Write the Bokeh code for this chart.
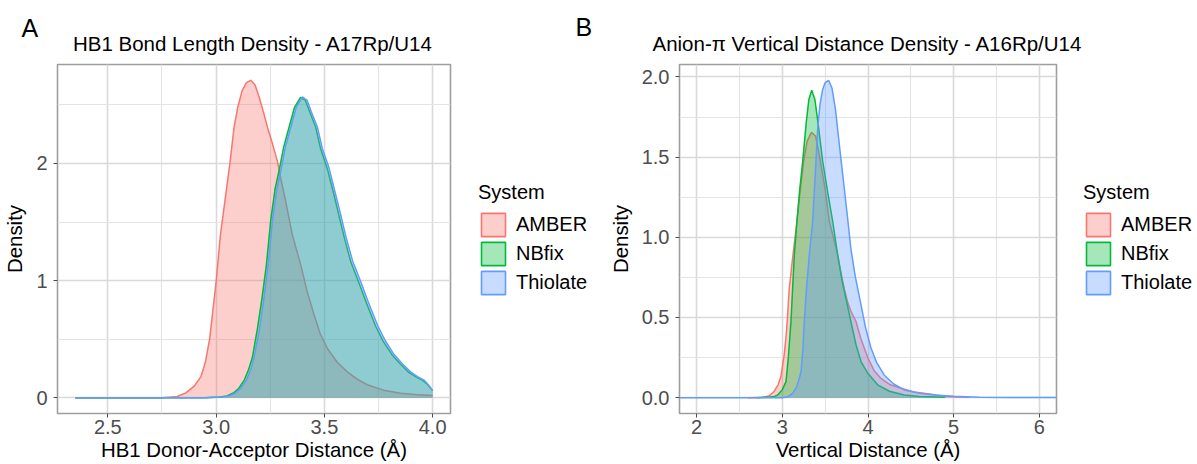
from bokeh.plotting import figure
from bokeh.layouts import row, column
from bokeh.models import Range1d, FixedTicker, Legend, LegendItem, Label
from bokeh.embed import file_html
from bokeh.resources import INLINE

FONT = "Liberation Sans"
NAN = float("nan")

systems = ["AMBER", "NBfix", "Thiolate"]
system_colors = ["#F8766D", "#00BA38", "#619CFF"]
legend_title = "System"
y_label = "Density"

# ---------------- Panel A ----------------
a_letter = "A"
a_title = "HB1 Bond Length Density - A17Rp/U14"
a_xlabel = "HB1 Donor-Acceptor Distance (Å)"
a_x_ticks = [2.5, 3.0, 3.5, 4.0]
a_x_tick_labels = ["2.5", "3.0", "3.5", "4.0"]
a_x_minor = [2.25, 2.75, 3.25, 3.75]
a_y_ticks = [0, 1, 2]
a_y_tick_labels = ["0", "1", "2"]
a_y_minor = [0.5, 1.5, 2.5]

a_amber_x = [2.35, 2.75, 2.82, 2.86, 2.90, 2.93, 2.95, 2.97, 2.99, 3.00, 3.02, 3.045, 3.065,
             3.083, 3.10, 3.12, 3.14, 3.16, 3.18, 3.20, 3.22, 3.237, 3.26, 3.283, 3.30, 3.321,
             3.352, 3.39, 3.42, 3.452, 3.48, 3.514, 3.56, 3.606, 3.65, 3.698, 3.78, 3.852,
             3.92, 4.00]
a_amber_y = [0.0, 0.0, 0.01, 0.04, 0.10, 0.18, 0.30, 0.50, 0.82, 0.99, 1.39, 1.74, 2.02,
             2.31, 2.48, 2.62, 2.69, 2.71, 2.67, 2.56, 2.43, 2.31, 2.17, 2.02, 1.86, 1.68,
             1.39, 1.14, 0.91, 0.71, 0.55, 0.42, 0.30, 0.22, 0.16, 0.11, 0.06, 0.037,
             0.026, 0.018]

a_nbfix_x = [2.35, 2.95, 3.02, 3.05, 3.08, 3.105, 3.13, 3.15, 3.167, 3.19, 3.212, 3.232,
             3.252, 3.272, 3.291, 3.312, 3.337, 3.362, 3.39, 3.412, 3.433, 3.46, 3.482, 3.513,
             3.542, 3.567, 3.593, 3.622, 3.66, 3.692, 3.737, 3.772, 3.813, 3.852, 3.89,
             3.925, 3.955, 3.978, 4.00]
a_nbfix_y = [0.0, 0.0, 0.005, 0.015, 0.04, 0.08, 0.15, 0.24, 0.34, 0.58, 0.85, 1.13,
             1.51, 1.78, 1.94, 2.14, 2.31, 2.48, 2.565, 2.54, 2.44, 2.31, 2.13, 1.96,
             1.75, 1.56, 1.36, 1.16, 0.98, 0.82, 0.61, 0.48, 0.365, 0.285, 0.215,
             0.175, 0.145, 0.11, 0.06]

a_thiolate_x = [2.35, 2.95, 3.03, 3.06, 3.09, 3.114, 3.14, 3.16, 3.175, 3.20, 3.221, 3.24,
                3.26, 3.28, 3.299, 3.32, 3.345, 3.37, 3.398, 3.42, 3.44, 3.468, 3.49, 3.521,
                3.55, 3.575, 3.601, 3.63, 3.668, 3.70, 3.745, 3.78, 3.821, 3.86, 3.898,
                3.93, 3.96, 3.98, 4.00]
a_thiolate_y = [0.0, 0.0, 0.005, 0.015, 0.04, 0.08, 0.15, 0.24, 0.34, 0.58, 0.85, 1.13,
                1.51, 1.78, 1.94, 2.14, 2.31, 2.48, 2.57, 2.54, 2.44, 2.31, 2.13, 1.965,
                1.75, 1.565, 1.365, 1.17, 0.99, 0.83, 0.62, 0.49, 0.37, 0.29, 0.22,
                0.18, 0.15, 0.11, 0.06]

# ---------------- Panel B ----------------
b_letter = "B"
b_title = "Anion-π Vertical Distance Density - A16Rp/U14"
b_xlabel = "Vertical Distance (Å)"
b_x_limits = [2.0, 6.0]
b_x_ticks = [2, 3, 4, 5, 6]
b_x_tick_labels = ["2", "3", "4", "5", "6"]
b_x_minor = [2.5, 3.5, 4.5, 5.5]
b_y_ticks = [0.0, 0.5, 1.0, 1.5, 2.0]
b_y_tick_labels = ["0.0", "0.5", "1.0", "1.5", "2.0"]
b_y_minor = [0.25, 0.75, 1.25, 1.75]

b_amber_x = [2.60, 2.78, 2.85, 2.906, 2.95, 2.983, 3.023, 3.05, 3.081, 3.12, 3.16, 3.20,
             3.249, 3.29, 3.34, 3.39, 3.444, 3.50, 3.548, 3.60, 3.643, 3.68, 3.723, 3.76,
             3.80, 3.86, 3.915, 3.997, 4.07, 4.152, 4.26, 4.386, 4.54, 4.697, 4.85, 5.0, 5.18]
b_amber_y = [0.0, 0.002, 0.012, 0.04, 0.08, 0.13, 0.27, 0.42, 0.68, 0.87, 1.05, 1.25,
             1.475, 1.60, 1.655, 1.63, 1.475, 1.30, 1.10, 0.99, 0.90, 0.79, 0.68, 0.60,
             0.54, 0.475, 0.37, 0.25, 0.17, 0.12, 0.08, 0.058, 0.035, 0.025, 0.012, 0.006, 0.002]

b_nbfix_x = [2.70, 2.90, 2.946, 3.00, 3.043, 3.07, 3.101, 3.12, 3.14, 3.171, 3.20, 3.238,
             3.28, 3.31, 3.343, 3.38, 3.42, 3.471, 3.53, 3.588, 3.646, 3.70, 3.75, 3.80,
             3.86, 3.918, 4.0, 4.113, 4.25, 4.424, 4.6, 4.9]
b_nbfix_y = [0.0, 0.005, 0.017, 0.05, 0.10, 0.25, 0.475, 0.68, 0.89, 1.10, 1.28, 1.475,
             1.72, 1.86, 1.917, 1.86, 1.70, 1.475, 1.28, 1.10, 0.89, 0.72, 0.60, 0.475,
             0.33, 0.225, 0.15, 0.08, 0.04, 0.017, 0.007, 0.002]

b_thiolate_x = [1.70, 3.00, 3.06, 3.121, 3.17, 3.218, 3.24, 3.256, 3.285, 3.315, 3.354,
                3.38, 3.413, 3.44, 3.47, 3.50, 3.541, 3.58, 3.62, 3.665, 3.72, 3.76, 3.80,
                3.85, 3.918, 3.97, 4.035, 4.10, 4.19, 4.30, 4.424, 4.60, 4.774, 5.0, 5.3,
                5.6, 6.30]
b_thiolate_y = [0.0, 0.0, 0.005, 0.027, 0.07, 0.16, 0.30, 0.475, 0.70, 0.89, 1.10,
                1.35, 1.683, 1.83, 1.92, 1.965, 1.979, 1.93, 1.80, 1.58, 1.32, 1.13, 0.93,
                0.76, 0.58, 0.44, 0.31, 0.22, 0.14, 0.085, 0.048, 0.027, 0.017, 0.008, 0.003,
                0.001, 0.0]

STRIP_H = 57
PANEL_H = 406
TOTAL_W = 1196


def bare_figure(width, height, xr, yr):
    f = figure(width=width, height=height, output_backend="svg", toolbar_location=None,
               x_range=xr, y_range=yr, x_axis_location=None, y_axis_location=None,
               title_location=None,
               min_border=0, min_border_left=0, min_border_right=0,
               min_border_top=0, min_border_bottom=0)
    f.outline_line_color = None
    f.xgrid.visible = False
    f.ygrid.visible = False
    f.background_fill_color = "white"
    f.border_fill_color = "white"
    return f


def make_panel(xlabel, curves, x_limits, x_ticks, x_labels, x_minor,
               y_ticks, y_labels, y_minor, width, border_left, border_right):
    xs_all = [v for cx, _ in curves for v in cx]
    ys_all = [v for _, cy in curves for v in cy]
    xmin, xmax = (x_limits if x_limits else (min(xs_all), max(xs_all)))
    xpad = (xmax - xmin) * 0.05
    ymax = max(ys_all)
    ypad = ymax * 0.05

    p = figure(width=width, height=PANEL_H, output_backend="svg", toolbar_location=None,
               x_range=Range1d(xmin - xpad, xmax + xpad),
               y_range=Range1d(-ypad, ymax + ypad), title_location=None,
               min_border_left=border_left, min_border_right=border_right,
               min_border_top=7, min_border_bottom=0)
    p.background_fill_color = "white"
    p.border_fill_color = "white"
    p.outline_line_color = "#9E9E9E"
    p.outline_line_width = 1.6

    p.xaxis.ticker = FixedTicker(ticks=x_ticks, minor_ticks=x_minor)
    p.yaxis.ticker = FixedTicker(ticks=y_ticks, minor_ticks=y_minor)
    p.xaxis.major_label_overrides = dict(zip(x_ticks, x_labels))
    p.yaxis.major_label_overrides = dict(zip(y_ticks, y_labels))
    p.xaxis.axis_label = xlabel
    p.yaxis.axis_label = y_label
    for ax in (p.xaxis, p.yaxis):
        ax.axis_line_color = None
        ax.major_tick_line_color = "#4D4D4D"
        ax.major_tick_out = 4
        ax.major_tick_in = 0
        ax.minor_tick_line_color = None
        ax.major_label_text_font = FONT
        ax.major_label_text_font_size = "20px"
        ax.major_label_text_color = "#4D4D4D"
        ax.axis_label_text_font = FONT
        ax.axis_label_text_font_size = "20.4px"
        ax.axis_label_text_font_style = "normal"
        ax.axis_label_text_color = "#000000"
    p.xaxis.major_label_standoff = 2
    p.xaxis.axis_label_standoff = 2
    p.yaxis.major_label_standoff = 6
    p.yaxis.axis_label_standoff = 7

    for g in (p.xgrid, p.ygrid):
        g.grid_line_color = "#D9D9D9"
        g.grid_line_width = 1.6
        g.minor_grid_line_color = "#E4E4E4"
        g.minor_grid_line_width = 1.2

    for (cx, cy), color in zip(curves, system_colors):
        p.varea(x=cx, y1=[0.0] * len(cx), y2=cy, fill_color=color, fill_alpha=0.35)
        p.line(x=cx, y=cy, line_color=color, line_width=1.5)
    return p


def make_legend_fig(width, key_left, legend_bottom):
    f = bare_figure(width, PANEL_H, Range1d(0, 1), Range1d(0, 1))
    keys = []
    for color in system_colors:
        keys.append(f.patch(x=[NAN], y=[NAN], fill_color=color, fill_alpha=0.35,
                            line_color=color, line_width=1.6))
    legend = Legend(items=[LegendItem(label=s, renderers=[r]) for s, r in zip(systems, keys)],
                    title=legend_title, location=(key_left, legend_bottom))
    legend.title_text_font = FONT
    legend.title_text_font_size = "20px"
    legend.title_text_font_style = "normal"
    legend.title_text_color = "#000000"
    legend.title_standoff = 6
    legend.label_text_font = FONT
    legend.label_text_font_size = "20px"
    legend.label_text_color = "#000000"
    legend.glyph_width = 30
    legend.glyph_height = 29
    legend.label_height = 29
    legend.label_standoff = 8
    legend.spacing = 0
    legend.padding = 0
    legend.margin = 0
    legend.border_line_color = None
    legend.background_fill_alpha = 0
    f.add_layout(legend)
    return f


pA = make_panel(a_xlabel,
                [(a_amber_x, a_amber_y), (a_nbfix_x, a_nbfix_y), (a_thiolate_x, a_thiolate_y)],
                None, a_x_ticks, a_x_tick_labels, a_x_minor, a_y_ticks, a_y_tick_labels, a_y_minor,
                width=460, border_left=57, border_right=10)
legA = make_legend_fig(138, 18, 116)

pB = make_panel(b_xlabel,
                [(b_amber_x, b_amber_y), (b_nbfix_x, b_nbfix_y), (b_thiolate_x, b_thiolate_y)],
                b_x_limits, b_x_ticks, b_x_tick_labels, b_x_minor, b_y_ticks, b_y_tick_labels,
                b_y_minor, width=467, border_left=81, border_right=9)
legB = make_legend_fig(TOTAL_W - 460 - 138 - 467, 18, 116)

# header strip: panel letters and panel titles (pixel coordinates, y downward)
strip = bare_figure(TOTAL_W, STRIP_H, Range1d(0, TOTAL_W), Range1d(STRIP_H, 0))
for text, lx, ly, size, align in [(a_letter, 21, 27, "25px", "left"),
                                  (b_letter, 575, 26, "25px", "left"),
                                  (a_title, 252.5, 43, "20.5px", "center"),
                                  (b_title, 867, 43, "20.5px", "center")]:
    strip.add_layout(Label(x=lx, y=ly, text=text, text_font=FONT, text_font_size=size,
                           text_color="#000000", text_align=align,
                           text_baseline="alphabetic"))

layout = column(strip, row(pA, legA, pB, legB))
open("out.html", "w").write(file_html(layout, INLINE))
